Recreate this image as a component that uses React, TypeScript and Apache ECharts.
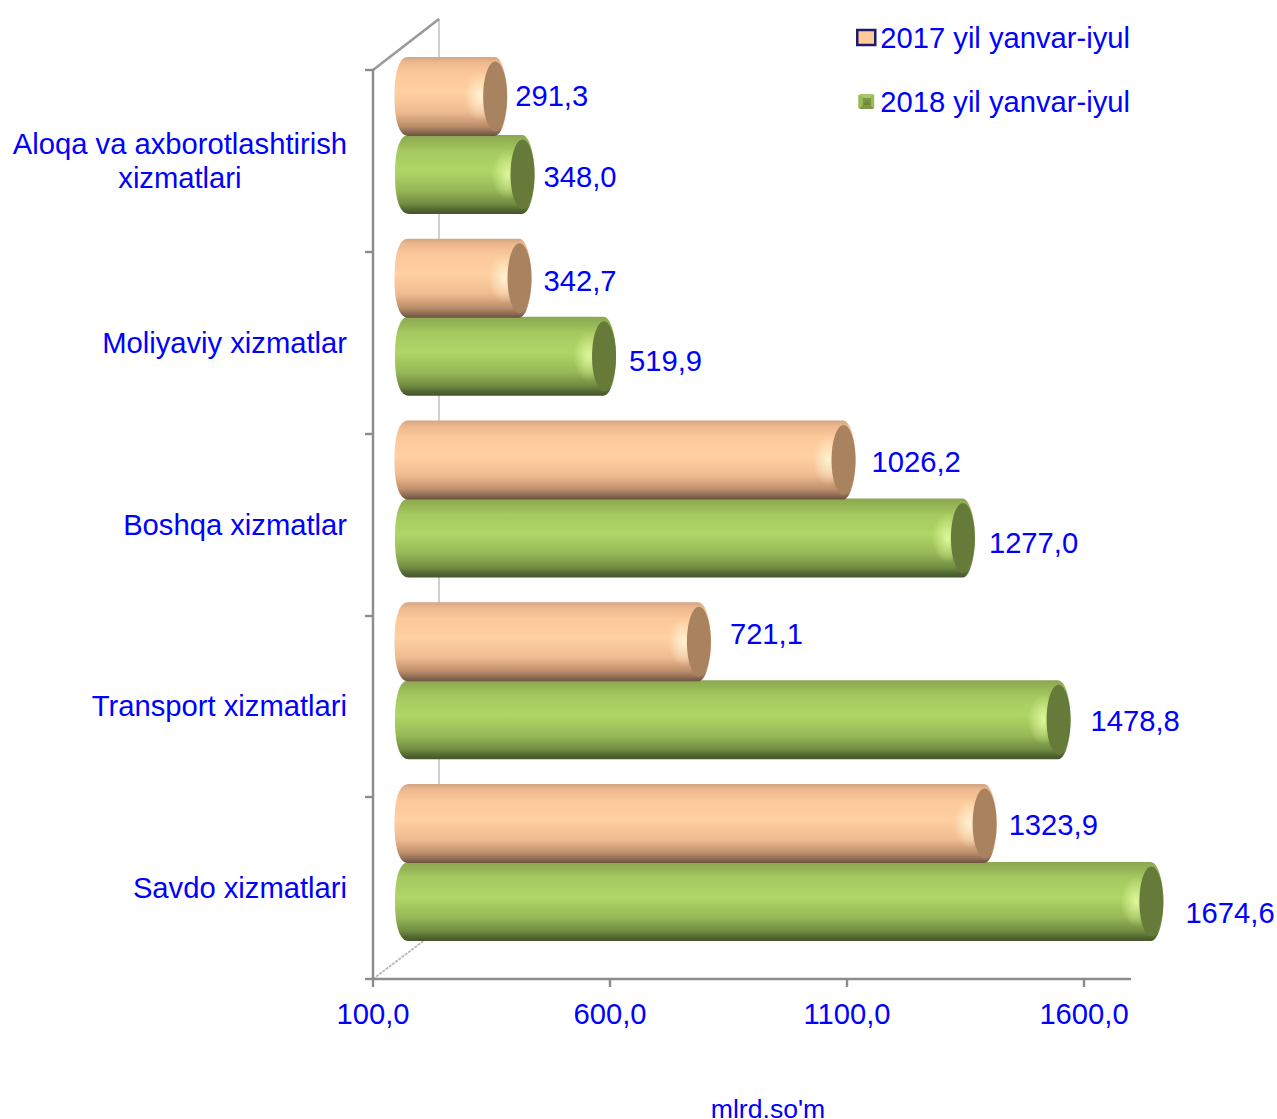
import React, { useEffect, useRef } from "react";
import * as echarts from "echarts";

const categories = ["Aloqa va axborotlashtirish\nxizmatlari", "Moliyaviy xizmatlar", "Boshqa xizmatlar", "Transport xizmatlari", "Savdo xizmatlari"];
const values2017 = [291.3, 342.7, 1026.2, 721.1, 1323.9];
const values2018 = [348.0, 519.9, 1277.0, 1478.8, 1674.6];
const xTicks = [100, 600, 1100, 1600];
const name2017 = "2017 yil yanvar-iyul";
const name2018 = "2018 yil yanvar-iyul";

// hand-placed data label nudges of the original (px from the bar end / bar centre)
const labelDx2017 = [8, 12, 16, 19, 12];
const labelDy2017 = [-0.5, 2.5, 1.5, -8, 1];
const labelDx2018 = [9, 13, 14, 20, 22];
const labelDy2018 = [3, 4.5, 4.5, 1, 11];

const BLUE = "#0000FF";
const FONT = "Liberation Sans, Arial, sans-serif";
const FS = 29.2;
const DEPTH = 43.5;
const BAR_H = 79;
const CURVE_R = 12.5;
const CURVE_L = 14;

const fmt = (v: number) => v.toFixed(1).replace(".", ",");

function outline(x0: number, x1: number, top: number, h: number) {
  const pts: number[][] = [];
  const n = 24;
  const mid = top + h / 2;
  const ry = h / 2;
  for (let i = 0; i <= n; i++) {
    const a = -Math.PI / 2 + (Math.PI * i) / n;
    pts.push([x1 - CURVE_R + CURVE_R * Math.cos(a), mid + ry * Math.sin(a)]);
  }
  const e = 0.85;
  for (let i = 0; i <= n; i++) {
    const a = Math.PI / 2 + (Math.PI * i) / n;
    const c = Math.cos(a), s = Math.sin(a);
    pts.push([x0 + CURVE_L + Math.sign(c) * CURVE_L * Math.pow(Math.abs(c), e), mid + Math.sign(s) * ry * Math.pow(Math.abs(s), e)]);
  }
  return pts;
}

function cylinder(stops: [number, string][], cap: string, glow: string, dyBar: number, extra: number, dxL: number[], dyL: number[]) {
  return (params: any, api: any) => {
    const v = api.value(0);
    const i = api.value(1);
    const end = api.coord([v, i]);
    const base = api.coord([100, i]);
    const cy = end[1] + dyBar;
    const x0 = base[0] + DEPTH - 22 + extra;
    const x1 = end[0] + DEPTH + extra;
    const top = cy - BAR_H / 2;
    const grad = new echarts.graphic.LinearGradient(0, 0, 0, 1, stops.map(([offset, color]) => ({ offset, color })));
    const glowFill = new echarts.graphic.RadialGradient(0.5, 0.5, 0.5, [
      { offset: 0, color: glow },
      { offset: 1, color: glow.replace(/[\d.]+\)$/, "0)") },
    ]);
    return {
      type: "group",
      children: [
        { type: "polygon", shape: { points: outline(x0, x1, top, BAR_H) }, style: { fill: grad } },
        { type: "ellipse", shape: { cx: x1 - 27, cy, rx: 16, ry: 25 }, style: { fill: glowFill } },
        { type: "ellipse", shape: { cx: x1 - 12, cy, rx: 12, ry: 35 }, style: { fill: cap } },
        {
          type: "text",
          style: {
            text: fmt(v), x: x1 + dxL[i], y: cy + dyL[i], fill: BLUE,
            font: `${FS}px ${FONT}`, textAlign: "left", textVerticalAlign: "middle",
          },
        },
      ],
    };
  };
}

const orangeStops: [number, string][] = [
  [0, "#D3A581"], [0.07, "#EDB88E"], [0.2, "#FBC89A"], [0.45, "#FFD0A2"], [0.7, "#EEBB90"], [0.87, "#BE8F6C"], [0.96, "#85664E"], [1, "#6A5140"],
];
const greenStops: [number, string][] = [
  [0, "#8CA752"], [0.07, "#93B254"], [0.2, "#A5C960"], [0.45, "#AFD666"], [0.7, "#97B857"], [0.87, "#728D42"], [0.96, "#4E6130"], [1, "#465629"],
];

export default function App() {
  const ref = useRef<HTMLDivElement>(null);
  useEffect(() => {
    const chart = echarts.init(ref.current!, null, { renderer: "svg" });
    chart.setOption({
      animation: false,
      backgroundColor: "#ffffff",
      grid: { left: 373, top: 70, width: 757, height: 909, containLabel: false },
      legend: {
        orient: "vertical", left: 856, top: 23, itemWidth: 18, itemHeight: 15, itemGap: 35, padding: 0, itemStyle: {},
        textStyle: { color: BLUE, fontFamily: FONT, fontSize: FS },
        data: [
          { name: name2017, icon: "rect", itemStyle: { color: "#FFCC99", borderColor: "#1F1A6B", borderWidth: 2.5 } },
          { name: name2018, icon: "rect", itemStyle: { color: "#9BBB59", borderColor: "#ffffff", borderWidth: 2 } },
        ],
      },
      xAxis: {
        type: "value", min: 100, max: 1697, position: "bottom",
        splitLine: { show: false },
        axisLine: { show: true, lineStyle: { color: "#8C8C8C", width: 2.4 } },
        axisTick: { show: true, length: 8, customValues: xTicks, lineStyle: { color: "#8C8C8C", width: 2.4 } },
        axisLabel: {
          margin: 20, color: BLUE, fontFamily: FONT, fontSize: FS, customValues: xTicks,
          formatter: (v: number) => fmt(v),
        },
      },
      yAxis: {
        type: "category", inverse: true, data: categories,
        axisLine: { show: true, lineStyle: { color: "#8C8C8C", width: 2.4 } },
        axisTick: { show: true, length: 8, lineStyle: { color: "#8C8C8C", width: 2.4 } },
        axisLabel: {
          margin: 26, align: "right", color: BLUE, fontFamily: FONT, fontSize: FS, lineHeight: 34,
          formatter: (s: string) => s.split("\n").map((l) => `{c|${l}}`).join("\n"),
          rich: { c: { align: "center", color: BLUE, fontFamily: FONT, fontSize: FS, lineHeight: 34 } },
        },
      },
      graphic: [
        { type: "line", z: 0, shape: { x1: 439, y1: 19, x2: 439, y2: 930 }, style: { stroke: "#B0B0B0", lineWidth: 1.2 } },
        { type: "line", z: 0, shape: { x1: 373, y1: 70, x2: 439, y2: 19 }, style: { stroke: "#9A9A9A", lineWidth: 2.6 } },
        { type: "line", z: 0, shape: { x1: 373, y1: 979, x2: 430, y2: 936 }, style: { stroke: "#BDBDBD", lineWidth: 2, lineDash: [3, 1] } },
        { type: "polygon", z: 5, shape: { points: [[859, 94], [874, 94], [867, 101]] }, style: { fill: "#A9C76A" } },
        { type: "polygon", z: 5, shape: { points: [[859, 109], [874, 109], [867, 101]] }, style: { fill: "#7E9A48" } },
        { type: "polygon", z: 5, shape: { points: [[863, 98], [871, 98], [871, 105], [863, 105]] }, style: { fill: "#5F7530", opacity: 0.55 } },
        {
          type: "text", z: 5, x: 768, y: 1109,
          style: { text: "mlrd.so'm", fill: BLUE, font: `26.6px ${FONT}`, textAlign: "center", textVerticalAlign: "middle" },
        },
      ],
      series: [
        {
          type: "custom", name: name2018, coordinateSystem: "cartesian2d", z: 2, clip: false,
          itemStyle: { color: "#9BBB59" },
          encode: { x: 0, y: 1 },
          data: values2018.map((v, i) => [v, i]),
          renderItem: cylinder(greenStops, "#667A3A", "rgba(226,250,160,0.9)", 13.5, 0.5, labelDx2018, labelDy2018),
        },
        {
          type: "custom", name: name2017, coordinateSystem: "cartesian2d", z: 3, clip: false,
          itemStyle: { color: "#FFCC99" },
          encode: { x: 0, y: 1 },
          data: values2017.map((v, i) => [v, i]),
          renderItem: cylinder(orangeStops, "#A9825F", "rgba(255,245,215,0.9)", -64.5, 0, labelDx2017, labelDy2017),
        },
      ],
    });
    return () => chart.dispose();
  }, []);
  return <div ref={ref} style={{ position: "absolute", left: 0, top: 0, width: 1277, height: 1119 }} />;
}
